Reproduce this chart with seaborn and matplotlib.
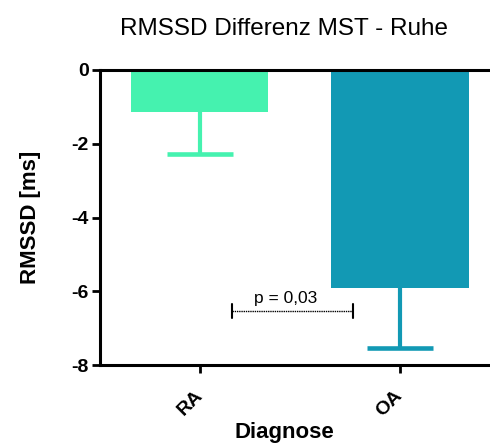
import matplotlib
matplotlib.use("Agg")
import matplotlib.pyplot as plt
import seaborn as sns
import pandas as pd

categories = ["RA", "OA"]
means = [-1.14, -5.91]
sem = [1.14, 1.62]
colors = ["#45F2AF", "#1299B4"]
p_text = "p = 0,03"
p_from, p_to, p_y = 0.16, 0.765, -6.53

sns.set_style("white")
plt.rcParams['font.family'] = ['Liberation Sans', 'DejaVu Sans']
plt.rcParams.update({"text.color": "black", "axes.labelcolor": "black",
                     "xtick.color": "black", "ytick.color": "black"})

df = pd.DataFrame({"Diagnose": categories, "RMSSD": means})

fig = plt.figure(figsize=(4.9, 4.48), dpi=100)
ax = fig.add_axes([0.204, 0.185, 0.794, 0.659])

sns.barplot(data=df, x="Diagnose", y="RMSSD", hue="Diagnose", palette=colors,
            width=0.685, legend=False, ax=ax, saturation=1, edgecolor="none")

cap_half = 0.165
for i, (m, s, c) in enumerate(zip(means, sem, colors)):
    ax.vlines(i, m - s, m, colors=c, lw=3, zorder=3)
    ax.hlines(m - s, i - cap_half, i + cap_half, colors=c, lw=3.3, zorder=3)

ax.set_ylim(-8, 0)
ax.set_xlim(-0.5, 1.445)
ax.set_yticks([0, -2, -4, -6, -8])
ax.set_yticklabels(["0", "-2", "-4", "-6", "-8"], fontweight="bold", fontsize=14)
ax.set_xticks([0, 1])
ax.set_xticklabels(categories, fontweight="bold", fontsize=14, rotation=45,
                   ha="right", va="center", rotation_mode="anchor")
ax.tick_params(axis="both", direction="out", length=6, width=2, color="black",
               left=True, bottom=True, pad=2)
ax.tick_params(axis="x", pad=14)

for side in ["left", "bottom", "top"]:
    ax.spines[side].set_visible(True)
    ax.spines[side].set_color("black")
    ax.spines[side].set_linewidth(2.2)
ax.spines["right"].set_visible(False)

ax.set_xlabel("Diagnose", fontweight="bold", fontsize=16, labelpad=2, x=0.474)
ax.set_ylabel("RMSSD [ms]", fontweight="bold", fontsize=16, labelpad=22)
ax.set_title("RMSSD Differenz MST - Ruhe", fontsize=17.5, pad=25, x=0.472)

# significance bracket
ax.plot([p_from, p_to], [p_y, p_y], color="black", lw=1, linestyle=(0, (1, 0.6)), zorder=4)
for xe in (p_from, p_to):
    ax.plot([xe, xe], [p_y - 0.18, p_y + 0.18], color="black", lw=1.5, zorder=4)
ax.text((p_from + p_to) / 2 - 0.035, p_y + 0.14, p_text, ha="center", va="bottom", fontsize=12.5)

fig.savefig("out.png", dpi=100)
